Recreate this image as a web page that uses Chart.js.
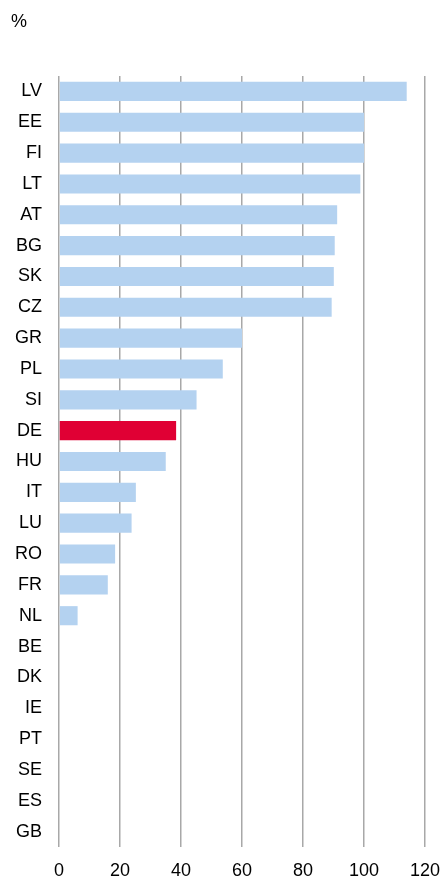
<!DOCTYPE html>
<html>
<head>
<meta charset="utf-8">
<script src="https://cdn.jsdelivr.net/npm/chart.js@4"></script>
<style>
  html, body { margin: 0; padding: 0; background: #ffffff; }
  #wrap { width: 441px; height: 878px; position: relative; }
</style>
</head>
<body>
<div id="wrap"><canvas id="c"></canvas></div>
<script>
const categories = ['LV','EE','FI','LT','AT','BG','SK','CZ','GR','PL','SI','DE','HU','IT','LU','RO','FR','NL','BE','DK','IE','PT','SE','ES','GB'];
const values = [114, 100, 100, 98.8, 91.2, 90.4, 90.1, 89.4, 60, 53.7, 45.1, 38.4, 35.0, 25.2, 23.8, 18.4, 16.0, 6.1, 0, 0, 0, 0, 0, 0, 0];
const highlight = 'DE';
const xTicks = [0, 20, 40, 60, 80, 100, 120];
const unitLabel = '%';

const blue = '#b4d2f0';
const red = '#e00034';
const FONT = "'Liberation Sans', Arial, sans-serif";

const unitPlugin = {
  id: 'unitLabel',
  afterDraw(chart) {
    const ctx = chart.ctx;
    ctx.save();
    ctx.font = '18px ' + FONT;
    ctx.fillStyle = '#000';
    ctx.textBaseline = 'middle';
    ctx.textAlign = 'left';
    ctx.fillText(unitLabel, 11, 22);
    ctx.restore();
  }
};

new Chart(document.getElementById('c'), {
  type: 'bar',
  data: {
    labels: categories,
    datasets: [{
      data: values,
      backgroundColor: categories.map(c => c === highlight ? red : blue),
      borderWidth: 0,
      barPercentage: 0.62,
      categoryPercentage: 1.0
    }]
  },
  options: {
    indexAxis: 'y',
    responsive: true,
    maintainAspectRatio: false,
    animation: false,
    layout: { padding: { top: 76, right: 16, left: 0, bottom: 0 } },
    plugins: { legend: { display: false }, tooltip: { enabled: false } },
    scales: {
      x: {
        min: 0, max: 120,
        afterBuildTicks(scale) { scale.ticks = xTicks.map(v => ({ value: v })); },
        afterFit(scale) { scale.height = 31; scale.paddingRight = 0; scale.paddingLeft = 0; },
        grid: { color: '#a8a8a8', lineWidth: 1.5, drawTicks: false },
        border: { display: false },
        ticks: { color: '#000', font: { family: FONT, size: 18 }, padding: 13, maxRotation: 0 }
      },
      y: {
        afterFit(scale) { scale.width = 59; scale.paddingTop = 0; scale.paddingBottom = 0; },
        grid: { display: false },
        border: { display: false },
        ticks: { color: '#000', font: { family: FONT, size: 18 }, padding: 9, autoSkip: false }
      }
    }
  },
  plugins: [unitPlugin]
});
</script>
</body>
</html>
